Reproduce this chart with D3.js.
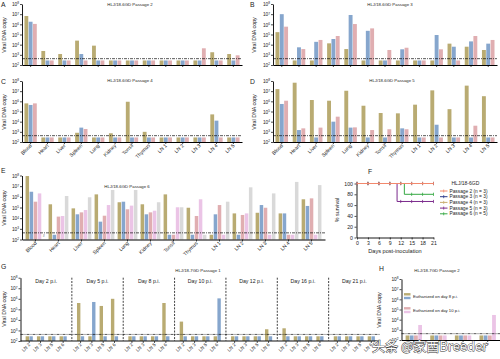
<!DOCTYPE html>
<html>
<head>
<meta charset="utf-8">
<script src="https://cdn.jsdelivr.net/npm/d3@7/dist/d3.min.js"></script>
<style>
  body { margin: 0; background: #fff; }
  svg text { font-family: "Liberation Sans", Arial, sans-serif; fill: #222; }
</style>
</head>
<body>
<div id="chart-area"></div>
<script>

const tissues = ["Blood", "Heart", "Liver", "Spleen", "Lung", "Kidney", "Tonsil", "Thymus",
                 "LN 1", "LN 2", "LN 3", "LN 4", "LN 5"];

const BLD = 280;   // samples under the detection limit
const LOD = 420;   // detection limit (dashed line)

// copies per tissue, one value per pig
const passage2 = [
  [6.6e6, 1.8e6, 1.1e6], [2.4e3, BLD, BLD], [1.2e3, BLD, BLD], [2.5e4, 1.2e3, BLD],
  [8.0e3, BLD, BLD], [BLD, BLD, BLD], [BLD, BLD, BLD], [BLD, BLD, BLD],
  [BLD, BLD, BLD], [BLD, BLD, BLD], [BLD, BLD, 4.4e3], [1.8e3, BLD, BLD],
  [1.2e3, BLD, 9.0e2]
];
const passage3 = [
  [1.7e5, 1.0e7, 5.9e5], [BLD, 5.5e3, 3.7e3], [BLD, 1.9e4, 2.9e4], [1.35e4, 3.6e4, 7.1e4],
  [3.7e3, 8.3e6, 1.07e6], [BLD, 2.3e5, 4.0e5], [BLD, BLD, 3.0e3], [BLD, 3.5e3, 5.0e3],
  [BLD, BLD, BLD], [BLD, 8.9e4, 3.5e3], [1.26e4, 6.3e3, BLD], [6.3e3, 2.1e4, 7.1e4],
  [3.0e3, 1.26e4, 2.9e4]
];
const passage4 = [
  [6.3e5, 4.4e5, 6.3e5], [BLD, BLD, BLD], [BLD, BLD, BLD], [8.1e2, 2.6e3, 1.9e3],
  [BLD, BLD, BLD], [7.2e2, BLD, BLD], [9.1e5, BLD, BLD], [1.0e3, BLD, BLD],
  [BLD, BLD, BLD], [BLD, BLD, BLD], [BLD, BLD, BLD], [5.2e4, 1.26e4, BLD],
  [BLD, BLD, BLD]
];
const passage5 = [
  [1.6e7, 5.5e5, 1.15e6], [6.8e7, 1.5e3, 2.2e3], [1.35e6, BLD, 2.6e3], [1.15e6, 1.0e4, 3.1e4],
  [1.1e7, 2.6e3, 2.75e3], [3.7e5, BLD, 1.5e3], [7.1e4, BLD, 1.8e3], [6.6e4, 2.2e3, 1.8e3],
  [4.7e5, BLD, BLD], [1.2e7, 5.0e3, BLD], [1.7e5, BLD, BLD], [3.5e7, BLD, 4.0e3],
  [3.2e6, BLD, BLD]
];
const passage6 = [
  [8.9e7, 3.0e6, 3.5e5, 2.1e6, null], [2.0e5, BLD, 1.4e4, 1.6e4, 1.2e6],
  [8.3e4, 2.3e4, 3.5e4, 5.8e4, 9.1e5], [1.7e6, 4.7e3, 1.7e4, 1.7e5, 4.4e6],
  [3.1e5, 3.5e5, 6.8e4, 1.5e5, 4.4e6], [2.0e5, 2.3e4, 3.5e4, 5.0e4, 3.1e5],
  [1.7e6, BLD, BLD, 1.05e5, 1.05e5], [9.5e4, BLD, 1.6e4, 5.9e5, BLD],
  [BLD, 2.3e4, 1.7e5, BLD, 3.5e5], [2.8e4, BLD, 2.0e4, 2.8e4, 7.8e6],
  [3.2e4, 1.7e5, 9.5e4, BLD, 2.1e6], [2.8e4, 2.8e4, BLD, BLD, 2.5e7],
  [5.9e5, 1.4e5, 7.2e5, BLD, 1.26e7]
];

// survival (day, %)
const survNames = ["Passage 2 (n = 3)", "Passage 3 (n = 3)", "Passage 4 (n = 3)",
                   "Passage 5 (n = 3)", "Passage 6 (n = 5)"];
const survP2 = [[0, 100], [21, 100]];
const survP3 = [[0, 100], [21, 100]];
const survP4 = [[0, 100], [21, 100]];
const survP5 = [[0, 100], [11, 66.7], [21, 66.7]];
const survP6 = [[0, 100], [13, 80], [21, 80]];
const survDays = [0, 3, 6, 9, 12, 15, 18, 21];

// HLJ/18-7GD
const gDays = ["Day 2 p.i.", "Day 5 p.i.", "Day 8 p.i.", "Day 10 p.i.", "Day 12 p.i.", "Day 16 p.i.", "Day 21 p.i."];
const gNodes = ["LN 2", "LN 3", "LN 5", "LN 6"];
const gPig1 = [
  [BLD, BLD, BLD, BLD], [4.0e5, BLD, 2.1e5, 1.0e6], [BLD, BLD, BLD, 4.0e5], [6.9e3, BLD, BLD, BLD],
  [BLD, BLD, BLD, 1.3e3], [1.6e3, BLD, BLD, BLD], [BLD, BLD, BLD, BLD]
];
const gPig2 = [
  [BLD, BLD, BLD, BLD], [BLD, 5.0e5, BLD, BLD], [BLD, BLD, BLD, BLD], [BLD, BLD, BLD, 1.1e6],
  [BLD, BLD, BLD, BLD], [BLD, BLD, BLD, BLD], [BLD, BLD, BLD, BLD]
];
const hData = [
  [BLD, BLD, BLD, 3.0e3], [BLD, BLD, BLD, BLD], [BLD, BLD, BLD, BLD], [BLD, BLD, BLD, 2.9e4]
];
const hLegend = ["Euthanized on day 8 p.i.", "Euthanized on day 10 p.i."];

const width = 500;
const height = 359;
const pigColor = ["#b9ab72", "#86a6cd", "#e0aeb1", "#ebc4e6", "#d9d9d9"];
const survColor = ["#f2896d", "#2c3b8d", "#c9ad6f", "#7b2a8c", "#35a843"];

const svg = d3.select("#chart-area")
      .append("svg")
      .attr("width", width)
      .attr("height", height);

function powAxis(g, y, x) {
  const axis = d3.axisLeft(y)
        .tickValues([1e2, 1e3, 1e4, 1e5, 1e6, 1e7, 1e8])
        .tickSize(2).tickSizeOuter(0).tickFormat("");
  const a = g.append("g").attr("transform", `translate(${x},0)`).call(axis);
  a.select(".domain").attr("stroke-width", 0.9);
  a.selectAll(".tick line").attr("stroke-width", 0.7);
  a.selectAll(".tick").append("text")
      .attr("x", -3).attr("dy", "0.35em")
      .attr("text-anchor", "end").attr("font-size", 4.8)
      .each(function(d) {
        const t = d3.select(this);
        t.append("tspan").text("10");
        t.append("tspan").attr("dy", -1.7).attr("font-size", 3.2).text(Math.round(Math.log10(d)));
      });
}

function caption(letter, lx, ly, title, tx, ty, ylx, yly) {
  svg.append("text").text(letter).attr("x", lx).attr("y", ly).attr("font-size", 6.8);
  svg.append("text").text(title).attr("x", tx).attr("y", ty)
      .attr("text-anchor", "middle").attr("font-size", 4.3);
  svg.append("text").text("Viral DNA copy")
      .attr("transform", `translate(${ylx},${yly}) rotate(-90)`)
      .attr("text-anchor", "middle").attr("font-size", 5.3);
}

function barPanel(p) {
  const g = svg.append("g");
  const y = d3.scaleLog().domain([1e2, 1e8]).range([p.bottom, p.top]);
  const x = d3.scaleBand().domain(p.groups).range([p.left, p.right])
        .paddingInner(p.padIn).paddingOuter(p.padOut);
  const xPig = d3.scaleBand().domain(d3.range(p.data[0].length))
        .range([0, x.bandwidth()]).padding(p.barPad);

  const rows = p.data.flatMap((vals, i) => vals.map((v, j) => ({group: p.groups[i], pig: j, v: v})));

  g.selectAll("rect")
    .data(rows.filter(d => d.v != null))
    .join("rect")
      .attr("x", d => x(d.group) + xPig(d.pig))
      .attr("y", d => y(d.v))
      .attr("width", xPig.bandwidth())
      .attr("height", d => p.bottom - y(d.v))
      .attr("fill", d => pigColor[d.pig]);

  // sample missing
  g.selectAll("text.miss")
    .data(rows.filter(d => d.v == null))
    .join("text")
      .attr("class", "miss")
      .attr("x", d => x(d.group) + xPig(d.pig) + xPig.bandwidth() / 2)
      .attr("y", p.bottom - 2.5)
      .attr("text-anchor", "middle").attr("font-size", 3.5)
      .text("#");

  g.append("line")
      .attr("x1", p.left).attr("x2", p.right)
      .attr("y1", y(LOD)).attr("y2", y(LOD))
      .attr("stroke", "#111").attr("stroke-width", 0.7)
      .attr("stroke-dasharray", "3,1,1,1");

  const xa = g.append("g")
      .attr("transform", `translate(0,${p.bottom})`)
      .call(d3.axisBottom(x).tickSize(2).tickSizeOuter(0).tickFormat(""));
  xa.select(".domain").attr("stroke-width", 1.1);
  xa.selectAll(".tick line").attr("stroke-width", 0.7);
  if (p.labels) {
    xa.selectAll(".tick").append("text")
        .attr("text-anchor", "end").attr("font-size", p.labelSize || 5.1)
        .attr("transform", "translate(1.5,4) rotate(-45)")
        .text(d => d);
  }
  powAxis(g, y, p.left);
  return y;
}

// A - E
caption("A", 1, 7, "HLJ/18-6GD Passage 2", 130, 5.5, 6, 35);
barPanel({groups: tissues, data: passage2, left: 22, right: 242, top: 4, bottom: 65,
          padIn: 0.22, padOut: 0.12, barPad: 0.1, labels: false});

caption("B", 250, 7, "HLJ/18-6GD Passage 3", 390, 5.5, 256, 35);
barPanel({groups: tissues, data: passage3, left: 273, right: 497, top: 4, bottom: 65,
          padIn: 0.22, padOut: 0.12, barPad: 0.1, labels: false});

caption("C", 1, 84, "HLJ/18-6GD Passage 4", 130, 82, 6, 112);
barPanel({groups: tissues, data: passage4, left: 22, right: 242, top: 81, bottom: 142,
          padIn: 0.22, padOut: 0.12, barPad: 0.1, labels: true});

caption("D", 250, 84, "HLJ/18-6GD Passage 5", 392, 82, 256, 112);
barPanel({groups: tissues, data: passage5, left: 273, right: 497, top: 81, bottom: 142,
          padIn: 0.22, padOut: 0.12, barPad: 0.1, labels: true});

caption("E", 1, 173, "HLJ/18-6GD Passage 6", 127, 188, 6, 208);
barPanel({groups: tissues, data: passage6, left: 22, right: 325, top: 175.5, bottom: 239.5,
          padIn: 0.09, padOut: 0.13, barPad: 0.14, labels: true});

// F - survival
const xF = d3.scaleLinear().domain([0, 21]).range([357, 433.5]);
const yF = d3.scaleLinear().domain([0, 100]).range([237.5, 183.5]);

svg.append("text").text("F").attr("x", 368).attr("y", 174).attr("font-size", 6.8);

const fy = svg.append("g").attr("transform", "translate(356.5,0)")
    .call(d3.axisLeft(yF).tickValues([0, 20, 40, 60, 80, 100]).tickSize(2).tickSizeOuter(0).tickPadding(1.5));
const fx = svg.append("g").attr("transform", "translate(0,237.5)")
    .call(d3.axisBottom(xF).tickValues(survDays).tickSize(2).tickSizeOuter(0).tickPadding(1.5));
[fy, fx].forEach(a => {
  a.selectAll(".tick text").attr("font-size", 5.2);
  a.select(".domain").attr("stroke-width", 0.9);
  a.selectAll(".tick line").attr("stroke-width", 0.7);
});

svg.append("text").text("% survival")
    .attr("transform", "translate(339,210) rotate(-90)")
    .attr("text-anchor", "middle").attr("font-size", 5.4);
svg.append("text").text("Days post-inoculation")
    .attr("x", 395).attr("y", 252.5)
    .attr("text-anchor", "middle").attr("font-size", 5.6);

const survSeries = [survP2, survP3, survP4, survP5, survP6];
const survLine = d3.line().x(d => xF(d[0])).y(d => yF(d[1])).curve(d3.curveStepAfter);
const survAt = (s, day) => s.filter(p => p[0] <= day).pop()[1];

d3.range(4, -1, -1).forEach(i => {
  const s = survSeries[i];
  svg.append("path")
      .attr("d", survLine(s))
      .attr("fill", "none")
      .attr("stroke", survColor[i]).attr("stroke-width", 1);
  svg.selectAll(null)
    .data(survDays)
    .join("line")
      .attr("x1", d => xF(d)).attr("x2", d => xF(d))
      .attr("y1", d => yF(survAt(s, d)) - 1.6)
      .attr("y2", d => yF(survAt(s, d)) + 1.6)
      .attr("stroke", survColor[i]).attr("stroke-width", 0.8);
});

svg.append("text").text("HLJ/18-6GD").attr("x", 451.5).attr("y", 185).attr("font-size", 5);
survNames.forEach((name, i) => {
  const ly = 191 + i * 5.7;
  svg.append("line").attr("x1", 440).attr("x2", 447.5).attr("y1", ly).attr("y2", ly)
      .attr("stroke", survColor[i]).attr("stroke-width", 1);
  svg.append("line").attr("x1", 443.7).attr("x2", 443.7).attr("y1", ly - 1.5).attr("y2", ly + 1.5)
      .attr("stroke", survColor[i]).attr("stroke-width", 0.8);
  svg.append("text").text(name).attr("x", 449.5).attr("y", ly).attr("dy", "0.35em").attr("font-size", 4.8);
});

// G - HLJ/18-7GD passage 1, by day
caption("G", 1, 269, "HLJ/18-7GD Passage 1", 198, 271.5, 6, 309);

const gTop = 277.7;
const gBottom = 341;
const yG = d3.scaleLog().domain([1e2, 1e8]).range([gBottom, gTop]);
const xDay = d3.scaleBand().domain(gDays).range([20.5, 380]);
const xNode = d3.scaleBand().domain(gNodes).range([0, xDay.bandwidth()]).paddingInner(0.3).paddingOuter(0.42);
const xPair = d3.scaleBand().domain([0, 1]).range([0, xNode.bandwidth()]).padding(0.1);

const gRows = gDays.flatMap((day, i) => gNodes.flatMap((node, k) =>
    [gPig1[i][k], gPig2[i][k]].map((v, j) => ({day: day, node: node, pig: j, v: v}))));

const gG = svg.append("g");
gG.selectAll("rect")
  .data(gRows)
  .join("rect")
    .attr("x", d => xDay(d.day) + xNode(d.node) + xPair(d.pig))
    .attr("y", d => yG(d.v))
    .attr("width", xPair.bandwidth())
    .attr("height", d => gBottom - yG(d.v))
    .attr("fill", d => pigColor[d.pig]);

gG.append("line")
    .attr("x1", 20.5).attr("x2", 380)
    .attr("y1", yG(LOD)).attr("y2", yG(LOD))
    .attr("stroke", "#111").attr("stroke-width", 0.7).attr("stroke-dasharray", "3,1,1,1");

gDays.forEach((day, i) => {
  const x0 = xDay(day);
  if (i > 0) {
    gG.append("line").attr("x1", x0).attr("x2", x0).attr("y1", gTop).attr("y2", gBottom)
        .attr("stroke", "#111").attr("stroke-width", 0.8).attr("stroke-dasharray", "2,1.3");
  }
  gG.append("text").text(day)
      .attr("x", x0 + xDay.bandwidth() / 2).attr("y", 283)
      .attr("text-anchor", "middle").attr("font-size", 5.2);
  gNodes.forEach(node => {
    const cx = x0 + xNode(node) + xNode.bandwidth() / 2;
    gG.append("line").attr("x1", cx).attr("x2", cx).attr("y1", gBottom).attr("y2", gBottom + 2)
        .attr("stroke", "#111").attr("stroke-width", 0.7);
    gG.append("text").text(node)
        .attr("transform", `translate(${cx + 1.5},${gBottom + 4}) rotate(-45)`)
        .attr("text-anchor", "end").attr("font-size", 4.7);
  });
});
gG.append("line").attr("x1", 20.5).attr("x2", 380).attr("y1", gBottom).attr("y2", gBottom)
    .attr("stroke", "#111").attr("stroke-width", 1.1);
powAxis(gG, yG, 20.5);

// H - HLJ/18-7GD passage 2
caption("H", 379, 270.5, "HLJ/18-7GD Passage 2", 437, 271.5, 381, 310);
barPanel({groups: gNodes, data: hData, left: 401.5, right: 500, top: 279, bottom: 340,
          padIn: 0.3, padOut: 0.15, barPad: 0.1, labels: true, labelSize: 4.7});

hLegend.forEach((name, i) => {
  const ly = 294.3 + i * 14;
  [0, 1].forEach(k => {
    svg.append("rect").attr("x", 404).attr("y", ly + k * 3.7 - 1.2)
        .attr("width", 6.5).attr("height", 2.4)
        .attr("fill", pigColor[i * 2 + k]);
  });
  svg.append("text").text(name).attr("x", 413).attr("y", ly + 1.9)
      .attr("dy", "0.35em").attr("font-size", 4.2);
});

// watermark
svg.append("text").text("头条 @家酉Breeder")
    .attr("x", 372).attr("y", 350.5)
    .attr("font-size", 13)
    .style("font-family", "'Noto Sans CJK SC', sans-serif")
    .style("fill", "#fff")
    .attr("stroke", "#333").attr("stroke-width", 0.9)
    .attr("paint-order", "stroke");

</script>
</body>
</html>
